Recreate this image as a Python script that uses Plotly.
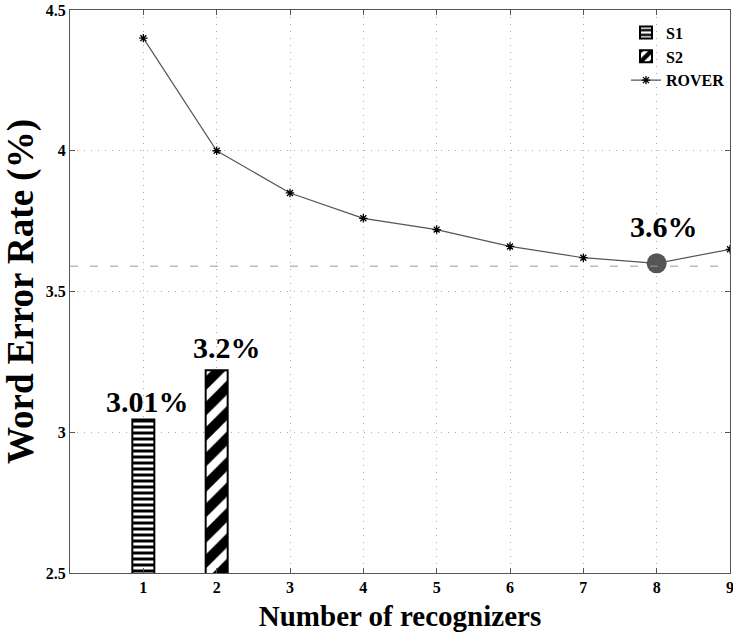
import plotly.graph_objects as go

rover_x = [1, 2, 3, 4, 5, 6, 7, 8, 9]
rover_y = [4.40, 4.00, 3.85, 3.76, 3.72, 3.66, 3.62, 3.60, 3.65]
s1_x = [1]
s1_y = [3.045]
s2_x = [2]
s2_y = [3.22]
best_x = [8]
best_y = [3.60]
ref_line = 3.59
x_ticks = [1, 2, 3, 4, 5, 6, 7, 8, 9]
y_ticks = [2.5, 3, 3.5, 4, 4.5]

FONT = "Liberation Serif"

fig = go.Figure()
fig.add_trace(go.Bar(
    x=s1_x, y=s1_y, width=0.3, name="<b>S1</b>",
    marker=dict(color="white", line=dict(color="black", width=2),
                pattern=dict(shape="-", fgcolor="black", bgcolor="white", fgopacity=1,
                             size=6, solidity=0.5)),
))
fig.add_trace(go.Bar(
    x=s2_x, y=s2_y, width=0.3, name="<b>S2</b>",
    marker=dict(color="white", line=dict(color="black", width=2),
                pattern=dict(shape="/", fgcolor="black", bgcolor="white", fgopacity=1,
                             size=18, solidity=0.55)),
))
fig.add_trace(go.Scatter(
    x=rover_x, y=rover_y, mode="lines+markers", name="<b>ROVER</b>",
    line=dict(color="#555", width=1.2),
    marker=dict(symbol="asterisk", size=7, color="black", line=dict(color="black", width=1.3)),
))
fig.add_trace(go.Scatter(
    x=best_x, y=best_y, mode="markers", showlegend=False,
    marker=dict(symbol="circle", size=20, color="#555"),
))
fig.add_shape(type="line", xref="paper", x0=0, x1=1, y0=ref_line, y1=ref_line,
              line=dict(color="#999", width=1, dash="8px,12px"))

fig.add_annotation(x=1, y=s1_y[0], text="<b>3.01%</b>", showarrow=False, yanchor="bottom",
                   xshift=4, yshift=0, font=dict(family=FONT, size=30, color="black"))
fig.add_annotation(x=2, y=s2_y[0], text="<b>3.2%</b>", showarrow=False, yanchor="bottom",
                   xshift=10, yshift=4, font=dict(family=FONT, size=30, color="black"))
fig.add_annotation(x=8, y=best_y[0], text="<b>3.6%</b>", showarrow=False, yanchor="bottom",
                   xshift=7, yshift=18, font=dict(family=FONT, size=30, color="black"))

fig.update_layout(
    width=733, height=638,
    margin=dict(l=70, r=3, t=10, b=65),
    paper_bgcolor="white", plot_bgcolor="white",
    barmode="overlay",
    font=dict(family=FONT, color="black"),
    legend=dict(x=1, y=0.99, xanchor="right", yanchor="top",
                bgcolor="rgba(255,255,255,0)", font=dict(family=FONT, size=16, color="black"),
                tracegroupgap=0, itemwidth=30),
    xaxis=dict(range=[0, 9], tickvals=x_ticks, ticktext=["<b>%d</b>" % t for t in x_ticks],
               showgrid=True, gridcolor="#aaa", griddash="1px,6px", gridwidth=1,
               showline=True, linecolor="#555", linewidth=1, mirror="ticks",
               ticks="inside", ticklen=5, tickcolor="#555", automargin=False,
               ticklabeloverflow="allow",
               tickfont=dict(family=FONT, size=16, color="black"),
               title=dict(text="<b>Number of recognizers</b>", font=dict(family=FONT, size=29, color="black"),
                          standoff=10),
               zeroline=False),
    yaxis=dict(range=[2.5, 4.5], tickvals=y_ticks, ticktext=["<b>%g</b>" % t for t in y_ticks],
               showgrid=True, gridcolor="#aaa", griddash="1px,6px", gridwidth=1,
               showline=True, linecolor="#555", linewidth=1, mirror="ticks",
               ticks="inside", ticklen=5, tickcolor="#555", automargin=False,
               ticklabeloverflow="allow",
               tickfont=dict(family=FONT, size=16, color="black"),
               title=dict(text="<b>Word Error Rate (%)</b>", font=dict(family=FONT, size=37, color="black"),
                          standoff=4),
               zeroline=False),
)

fig.write_html(
    "out.html",
    config={"displayModeBar": False},
    post_script="document.body.style.margin='0';document.body.style.overflow='hidden';"
                "document.documentElement.style.overflow='hidden';",
)
